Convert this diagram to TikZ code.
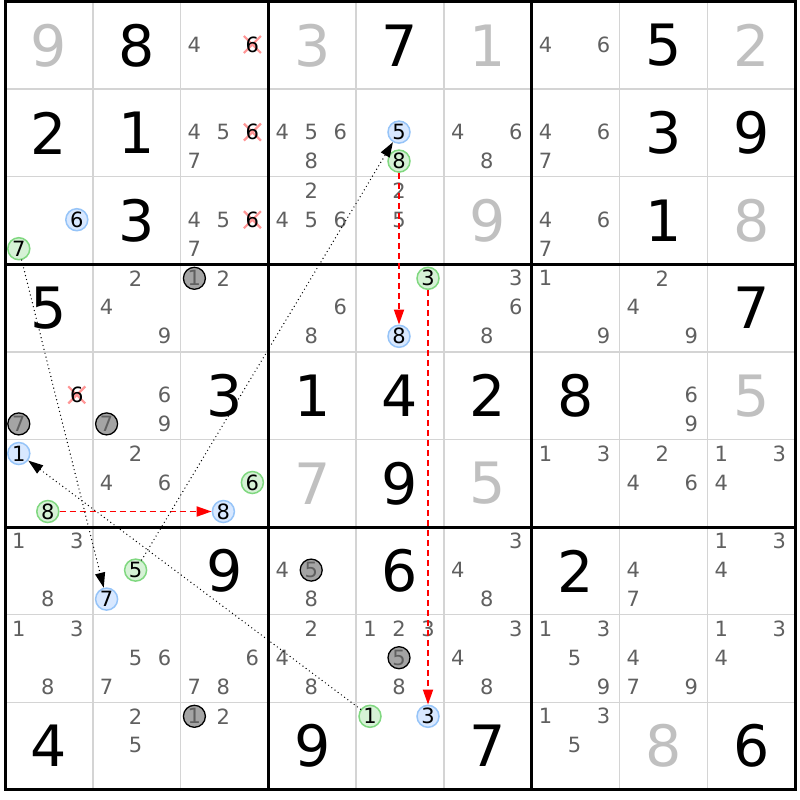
\documentclass[tikz,border=0pt]{standalone}
\usepackage{fontspec}
\setmainfont{DejaVu Sans}
\usetikzlibrary{arrows.meta}
\definecolor{cgray}{RGB}{96,96,96}
\definecolor{ggray}{RGB}{192,192,192}
\definecolor{lgrid}{RGB}{212,212,212}
\definecolor{bfill}{RGB}{216,232,255}
\definecolor{bline}{RGB}{150,196,248}
\definecolor{gfill}{RGB}{214,242,214}
\definecolor{gline}{RGB}{128,216,128}
\definecolor{dfill}{RGB}{164,164,164}
\definecolor{xpink}{RGB}{255,150,150}
\definecolor{ared}{RGB}{255,0,0}
\newcommand\bigfont{\fontsize{57}{57}\selectfont}
\newcommand\smfont{\fontsize{21}{21}\selectfont}
\newcommand\setpos[3]{\pgfmathsetmacro\cx{5+87.8*#2+13.8+29*mod(#3-1,3)}\pgfmathsetmacro\cy{1.5+87.6*#1+14+29*floor((#3-1)/3)}}
\newcommand\BG[4]{\node[bigd, text=#4] (g#1#2) at ({5+87.8*(#2+0.5)},{1.5+87.6*(#1+0.5)}) {#3};}
\newcommand\CA[3]{\foreach \d in {#3} {\setpos{#1}{#2}{\d}\node[cnd] (k#1#2\d) at (\cx,\cy) {\d};}}
\newcommand\CC[4]{\setpos{#2}{#3}{#4}\node[#1] (k#2#3#4) at (\cx,\cy) {#4};}
\newcommand\CX[3]{\setpos{#1}{#2}{#3}\draw[xmark] (\cx-8.5,\cy-8.5) -- (\cx+8.5,\cy+8.5) (\cx-8.5,\cy+8.5) -- (\cx+8.5,\cy-8.5); \node[cnd,text=black] (k#1#2#3) at (\cx,\cy) {#3};}
\begin{document}
\begin{tikzpicture}[x=1pt,y=-1pt,
  bigd/.style={font=\bigfont, inner sep=0pt},
  cnd/.style={font=\smfont, text=cgray, inner sep=0pt},
  bc/.style={circle, draw=bline, fill=bfill, line width=1.5pt, minimum size=22pt, inner sep=0pt, font=\smfont, text=black},
  gc/.style={circle, draw=gline, fill=gfill, line width=1.5pt, minimum size=22pt, inner sep=0pt, font=\smfont, text=black},
  dc/.style={circle, draw=black, fill=dfill, line width=1.3pt, minimum size=22pt, inner sep=0pt, font=\smfont, text=cgray},
  xmark/.style={draw=xpink, line width=2.2pt},
  thingrid/.style={draw=lgrid, line width=1.5pt},
  thickgrid/.style={draw=black, line width=3pt},
  redarr/.style={draw=ared, line width=1.8pt, dash pattern=on 6pt off 4pt, -{Triangle[length=15pt,width=10pt]}},
  blkarr/.style={draw=black, line width=1.4pt, line cap=round, dash pattern=on 0pt off 4pt, -{Triangle[length=15pt,width=10pt]}}
]
\useasboundingbox (0,0) rectangle (800,800);
\fill[white] (0,0) rectangle (800,800);
\foreach \i in {1,2,4,5,7,8} {
  \draw[thingrid] ({5+87.8*\i},1.5) -- ({5+87.8*\i},789.9);
  \draw[thingrid] (5,{1.5+87.6*\i}) -- (795.2,{1.5+87.6*\i});
}
\foreach \i in {3,6} {
  \draw[thickgrid] ({5+87.8*\i},1.5) -- ({5+87.8*\i},789.9);
  \draw[thickgrid] (5,{1.5+87.6*\i}) -- (795.2,{1.5+87.6*\i});
}
\draw[thickgrid] (5,1.5) rectangle (795.2,789.9);
% row 0
\BG{0}{0}{9}{ggray}
\BG{0}{1}{8}{black}
\CA{0}{2}{4}\CX{0}{2}{6}
\BG{0}{3}{3}{ggray}
\BG{0}{4}{7}{black}
\BG{0}{5}{1}{ggray}
\CA{0}{6}{4,6}
\BG{0}{7}{5}{black}
\BG{0}{8}{2}{ggray}
% row 1
\BG{1}{0}{2}{black}
\BG{1}{1}{1}{black}
\CA{1}{2}{4,5,7}\CX{1}{2}{6}
\CA{1}{3}{4,5,6,8}
\CC{bc}{1}{4}{5}\CC{gc}{1}{4}{8}
\CA{1}{5}{4,6,8}
\CA{1}{6}{4,6,7}
\BG{1}{7}{3}{black}
\BG{1}{8}{9}{black}
% row 2
\CC{bc}{2}{0}{6}\CC{gc}{2}{0}{7}
\BG{2}{1}{3}{black}
\CA{2}{2}{4,5,7}\CX{2}{2}{6}
\CA{2}{3}{2,4,5,6}
\CA{2}{4}{2,5}
\BG{2}{5}{9}{ggray}
\CA{2}{6}{4,6,7}
\BG{2}{7}{1}{black}
\BG{2}{8}{8}{ggray}
% row 3
\BG{3}{0}{5}{black}
\CA{3}{1}{2,4,9}
\CC{dc}{3}{2}{1}\CA{3}{2}{2}
\CA{3}{3}{6,8}
\CC{gc}{3}{4}{3}\CC{bc}{3}{4}{8}
\CA{3}{5}{3,6,8}
\CA{3}{6}{1,9}
\CA{3}{7}{2,4,9}
\BG{3}{8}{7}{black}
% row 4
\CX{4}{0}{6}\CC{dc}{4}{0}{7}
\CA{4}{1}{6,9}\CC{dc}{4}{1}{7}
\BG{4}{2}{3}{black}
\BG{4}{3}{1}{black}
\BG{4}{4}{4}{black}
\BG{4}{5}{2}{black}
\BG{4}{6}{8}{black}
\CA{4}{7}{6,9}
\BG{4}{8}{5}{ggray}
% row 5
\CC{bc}{5}{0}{1}\CC{gc}{5}{0}{8}
\CA{5}{1}{2,4,6}
\CC{gc}{5}{2}{6}\CC{bc}{5}{2}{8}
\BG{5}{3}{7}{ggray}
\BG{5}{4}{9}{black}
\BG{5}{5}{5}{ggray}
\CA{5}{6}{1,3}
\CA{5}{7}{2,4,6}
\CA{5}{8}{1,3,4}
% row 6
\CA{6}{0}{1,3,8}
\CC{gc}{6}{1}{5}\CC{bc}{6}{1}{7}
\BG{6}{2}{9}{black}
\CA{6}{3}{4,8}\CC{dc}{6}{3}{5}
\BG{6}{4}{6}{black}
\CA{6}{5}{3,4,8}
\BG{6}{6}{2}{black}
\CA{6}{7}{4,7}
\CA{6}{8}{1,3,4}
% row 7
\CA{7}{0}{1,3,8}
\CA{7}{1}{5,6,7}
\CA{7}{2}{6,7,8}
\CA{7}{3}{2,4,8}
\CA{7}{4}{1,2,3,8}\CC{dc}{7}{4}{5}
\CA{7}{5}{3,4,8}
\CA{7}{6}{1,3,5,9}
\CA{7}{7}{4,7,9}
\CA{7}{8}{1,3,4}
% row 8
\BG{8}{0}{4}{black}
\CA{8}{1}{2,5}
\CC{dc}{8}{2}{1}\CA{8}{2}{2}
\BG{8}{3}{9}{black}
\CC{gc}{8}{4}{1}\CC{bc}{8}{4}{3}
\BG{8}{5}{7}{black}
\CA{8}{6}{1,3,5}
\BG{8}{7}{8}{ggray}
\BG{8}{8}{6}{black}
% arrows
\draw[redarr] (k148) -- (k348);
\draw[redarr] (k343) -- (k843);
\draw[redarr] (k508) -- (k528);
\draw[blkarr] (k207) -- (k617);
\draw[blkarr] (k615) -- (k145);
\draw[blkarr] (k841) -- (k501);
\end{tikzpicture}
\end{document}
